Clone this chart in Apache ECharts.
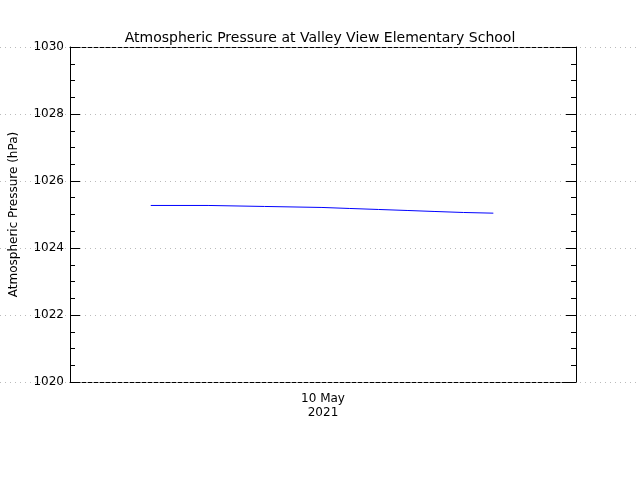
<!DOCTYPE html>
<html><head><meta charset="utf-8">
<script src="https://cdn.jsdelivr.net/npm/echarts@6/dist/echarts.min.js"></script>
<style>html,body{margin:0;background:#fff}#c{width:640px;height:480px}</style>
</head><body><div id="c"></div>
<script>
// hours relative to 10 May 2021 00:00
var hours=[-8.17,-5.45,-2.77,-0.05,1.27,2.63,3.99,5.31,6.67,8.08];
var pressure=[1025.27,1025.24,1025.21,1025.18,1025.15,1025.12,1025.09,1025.06,1025.04,1025.04];
var yTicks=[1020,1022,1024,1026,1028,1030];

var pts=hours.map(function(h,i){return [h,pressure[i]];});
var font='DejaVu Sans';
var chart=echarts.init(document.getElementById('c'));
chart.setOption({
  animation:false,
  title:{text:'Atmospheric Pressure at Valley View Elementary School',left:'center',top:26,
    textStyle:{fontFamily:font,fontSize:14,fontWeight:'normal',color:'#000'}},
  grid:[{left:65,right:64,top:47,bottom:98},{left:0,right:0,top:47,bottom:98}],
  xAxis:[
    {type:'value',gridIndex:0,min:-12,max:12,interval:12,position:'bottom',
     axisLine:{onZero:false,lineStyle:{color:'#000',type:'dashed'}},axisTick:{show:false},splitLine:{show:false},
     axisLabel:{fontFamily:font,fontSize:12,color:'#000',margin:10,lineHeight:14,
       formatter:function(v){return v===0?'10 May\n2021':'';}}},
    {type:'value',gridIndex:0,min:-12,max:12,position:'top',
     axisLine:{onZero:false,lineStyle:{color:'#000',type:'dashed'}},axisTick:{show:false},axisLabel:{show:false},splitLine:{show:false}},
    {type:'value',gridIndex:1,min:0,max:1,show:false}
  ],
  yAxis:[
    {type:'value',gridIndex:0,min:yTicks[0],max:yTicks[yTicks.length-1],interval:2,position:'left',
     name:'Atmospheric Pressure (hPa)',nameLocation:'middle',nameGap:50,
     nameTextStyle:{fontFamily:font,fontSize:12,color:'#000'},
     axisLine:{show:true,onZero:false,lineStyle:{color:'#000'}},
     axisTick:{inside:true,length:10,lineStyle:{color:'#000'}},
     minorTick:{show:true,splitNumber:4,length:5,lineStyle:{color:'#000'}},
     axisLabel:{fontFamily:font,fontSize:12,color:'#000',margin:6,formatter:function(v){return String(v);}},
     splitLine:{show:false}},
    {type:'value',gridIndex:0,min:1020,max:1030,interval:2,position:'right',
     axisLine:{show:true,onZero:false,lineStyle:{color:'#000'}},
     axisTick:{inside:true,length:10,lineStyle:{color:'#000'}},
     minorTick:{show:true,splitNumber:4,length:5,lineStyle:{color:'#000'}},
     axisLabel:{show:false},splitLine:{show:false}},
    {type:'value',gridIndex:1,min:1020,max:1030,interval:2,
     axisLine:{show:false},axisTick:{show:false},axisLabel:{show:false},
     splitLine:{show:true,lineStyle:{color:'#bbb',type:[1,4]}}}
  ],
  series:[{type:'line',xAxisIndex:0,yAxisIndex:0,data:pts,step:'end',showSymbol:false,
    lineStyle:{color:'#0000ff',width:1}}]
});
</script></body></html>
